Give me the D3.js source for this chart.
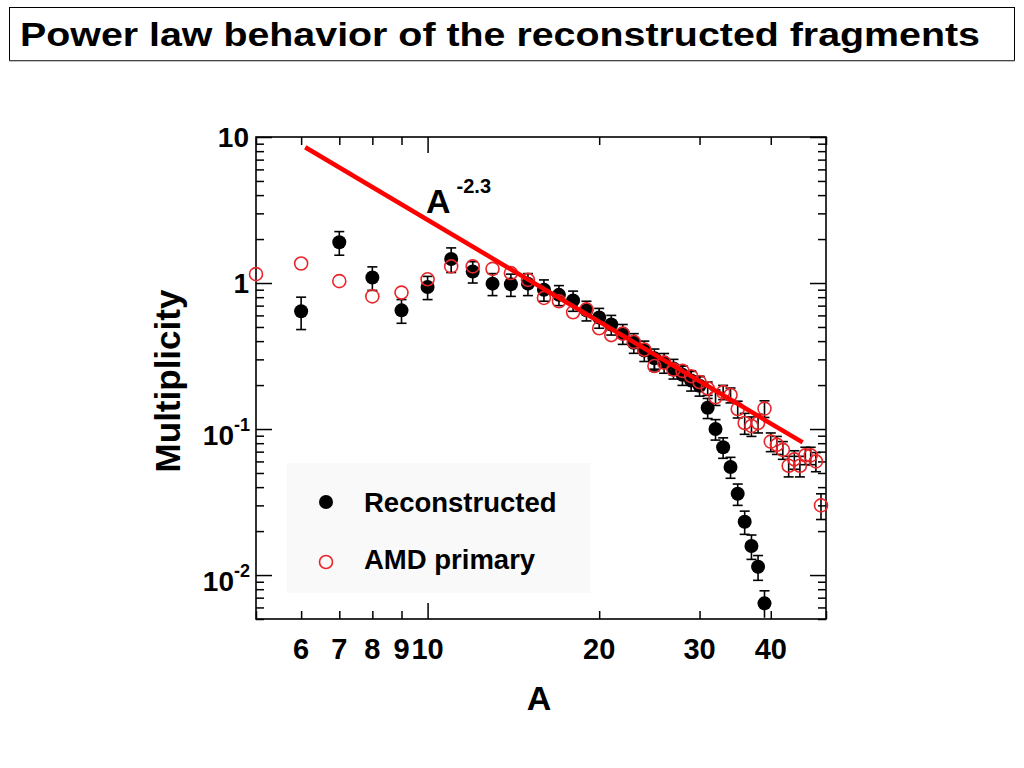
<!DOCTYPE html>
<html><head><meta charset="utf-8">
<script src="https://cdn.jsdelivr.net/npm/d3@7"></script>
<style>
html,body{margin:0;padding:0;background:#fff;}
svg{display:block;font-family:"Liberation Sans",Arial,Helvetica,sans-serif;font-weight:bold;}
</style>
</head><body>
<svg id="c" width="1024" height="768"></svg>
<script>
// ---------- data ----------
const title = "Power law behavior of the reconstructed fragments";
const xTitle = "A";
const yTitle = "Multiplicity";
const fitLabel = "A";
const fitExp = "-2.3";
const legendLabels = ["Reconstructed", "AMD primary"];

const recoA = [6,7,8,9,10,11,12,13,14,15,16,17,18,19,20,21,22,23,24,25,26,27,28,29,30,31,32,33,34,35,36,37,38,39];
const recoM = [0.64,1.90,1.09,0.65,0.94,1.46,1.20,0.99,0.98,0.99,0.90,0.83,0.76,0.65,0.58,0.52,0.45,0.39,0.345,0.305,0.285,0.26,0.235,0.215,0.198,0.14,0.10,0.075,0.055,0.036,0.0232,0.0158,0.0114,0.0064];
const recoErr = [0.16,0.35,0.20,0.12,0.17,0.28,0.20,0.17,0.17,0.17,0.15,0.13,0.12,0.10,0.09,0.08,0.07,0.06,0.055,0.048,0.044,0.04,0.036,0.033,0.03,0.022,0.016,0.012,0.009,0.006,0.0042,0.003,0.0022,0.0014];

const amdA = [5,6,7,8,9,10,11,12,13,14,15,16,17,18,19,20,21,22,23,24,25,26,27,28,29,30,31,32,33,34,35,36,37,38,39,40,41,42,43,44,45,46,47,48,49];
const amdM = [1.15,1.36,1.03,0.81,0.86,1.06,1.30,1.30,1.25,1.17,1.05,0.79,0.75,0.63,0.66,0.49,0.44,0.45,0.395,0.35,0.27,0.285,0.255,0.25,0.23,0.21,0.19,0.165,0.179,0.171,0.137,0.11,0.105,0.11,0.138,0.082,0.078,0.072,0.056,0.062,0.056,0.066,0.066,0.060,0.030];
const amdErr = [0,0,0,0,0,0,0,0,0,0,0,0,0,0,0,0,0,0,0,0,0.02,0.02,0.02,0.02,0.02,0.02,0.02,0.02,0.02,0.02,0.018,0.018,0.016,0.016,0.018,0.012,0.011,0.010,0.009,0.009,0.009,0.009,0.009,0.009,0.006];

const fitA = [6.1, 45.5];
const fitM = [8.5, 0.081];

const xTickLabelValues = [6,7,8,9,10,20,30,40];
const yTickValues = [10, 1, 0.1, 0.01];
const yTickBase = ["10", "1", "10", "10"];
const yTickExp = ["", "", "-1", "-2"];

// ---------- layout ----------
const svg = d3.select("#c");
const L = 256, R = 826, T = 137, B = 619;
const x = d3.scaleLog().domain([5, 50]).range([L, R]);
const y = d3.scaleLog().domain([0.005, 10]).range([B, T]);
const red = "#e8262a";

// title box
svg.append("rect").attr("x", 9.5).attr("y", 7.5).attr("width", 1005).attr("height", 53)
  .attr("fill", "#fff").attr("stroke", "#000").attr("stroke-width", 1);
svg.append("line").attr("x1", 9).attr("x2", 1015).attr("y1", 61).attr("y2", 61)
  .attr("stroke", "#888").attr("stroke-width", 1);
svg.append("text").attr("x", 20).attr("y", 46).attr("font-size", 33)
  .attr("textLength", 960).attr("lengthAdjust", "spacingAndGlyphs").text(title);

// legend background
svg.append("rect").attr("x", 287).attr("y", 463).attr("width", 303).attr("height", 130)
  .attr("fill", "#f9f9f9");

// axes with inward ticks
const isMajor = v => Math.abs(Math.log10(v) - Math.round(Math.log10(v))) < 1e-9;
const xt = x.ticks();
const yt = y.ticks();
function styleAxis(g, dir) {
  g.select(".domain").remove();
  g.selectAll(".tick text").remove();
  g.selectAll(".tick line").attr("stroke", "#000").attr("stroke-width", 1.5)
    .each(function(d){
      const len = isMajor(d) ? 16 : 8;
      const ln = d3.select(this);
      if (dir === "bottom") ln.attr("y2", -len);
      if (dir === "top") ln.attr("y2", len);
      if (dir === "left") ln.attr("x2", len);
      if (dir === "right") ln.attr("x2", -len);
    });
}
svg.append("g").attr("transform", `translate(0,${B})`)
  .call(d3.axisBottom(x).tickValues(xt).tickSizeOuter(0)).call(g => styleAxis(g, "bottom"));
svg.append("g").attr("transform", `translate(0,${T})`)
  .call(d3.axisTop(x).tickValues(xt).tickSizeOuter(0)).call(g => styleAxis(g, "top"));
svg.append("g").attr("transform", `translate(${L},0)`)
  .call(d3.axisLeft(y).tickValues(yt).tickSizeOuter(0)).call(g => styleAxis(g, "left"));
svg.append("g").attr("transform", `translate(${R},0)`)
  .call(d3.axisRight(y).tickValues(yt).tickSizeOuter(0)).call(g => styleAxis(g, "right"));

// frame
svg.append("rect").attr("x", L).attr("y", T).attr("width", R - L).attr("height", B - T)
  .attr("fill", "none").attr("stroke", "#000").attr("stroke-width", 1.6);

// x tick labels
svg.append("g").selectAll("text").data(xTickLabelValues).join("text")
  .attr("x", d => x(d)).attr("y", 659).attr("text-anchor", "middle").attr("font-size", 29)
  .text(d => String(d));

// y tick labels
yTickValues.forEach((v, i) => {
  const t = svg.append("text").attr("text-anchor", "end").attr("font-size", 28);
  if (yTickExp[i]) {
    t.attr("x", 250).attr("y", y(v) + 16);
    t.append("tspan").text(yTickBase[i]);
    t.append("tspan").attr("font-size", 18).attr("dy", -14).text(yTickExp[i]);
  } else {
    t.attr("x", 249).attr("y", y(v) + 10).text(yTickBase[i]);
  }
});

// axis titles
svg.append("text").attr("x", 539).attr("y", 710).attr("text-anchor", "middle")
  .attr("font-size", 34).text(xTitle);
svg.append("text").attr("transform", "translate(180,381) rotate(-90)").attr("text-anchor", "middle")
  .attr("font-size", 35).text(yTitle);

// reconstructed: error bars + filled dots
const recoData = recoA.map((a, i) => ({a, m: recoM[i], e: recoErr[i]}));
const amdData = amdA.map((a, i) => ({a, m: amdM[i], e: amdErr[i]}));
function errBars(data) {
  const g = svg.append("g").attr("stroke", "#000").attr("stroke-width", 1.6).attr("fill", "none");
  data.filter(d => d.e > 0).forEach(d => {
    const cx = x(d.a), y1 = y(d.m + d.e), y0 = y(Math.max(d.m - d.e, 0.0051));
    g.append("line").attr("x1", cx).attr("x2", cx).attr("y1", y1).attr("y2", y0);
    g.append("line").attr("x1", cx - 5).attr("x2", cx + 5).attr("y1", y1).attr("y2", y1);
    if (d.m - d.e > 0.005) g.append("line").attr("x1", cx - 5).attr("x2", cx + 5).attr("y1", y0).attr("y2", y0);
  });
}
errBars(recoData);
svg.append("g").selectAll("circle").data(recoData).join("circle")
  .attr("cx", d => x(d.a)).attr("cy", d => y(d.m)).attr("r", 7).attr("fill", "#000");

// AMD primary error bars + open circles
errBars(amdData);
svg.append("g").selectAll("circle").data(amdData).join("circle")
  .attr("cx", d => x(d.a)).attr("cy", d => y(d.m)).attr("r", 6.5)
  .attr("fill", "none").attr("stroke", red).attr("stroke-width", 1.6);

// power-law line
const fitData = fitA.map((a, i) => ({a, m: fitM[i]}));
svg.append("path").datum(fitData)
  .attr("d", d3.line().x(d => x(d.a)).y(d => y(d.m)))
  .attr("fill", "none").attr("stroke", "#ff0000").attr("stroke-width", 4.5);

// fit label
const fl = svg.append("text").attr("x", 426).attr("y", 213).attr("font-size", 34);
fl.append("tspan").text(fitLabel);
fl.append("tspan").attr("font-size", 20).attr("dx", 6).attr("dy", -20).text(fitExp);

// legend
svg.append("circle").attr("cx", 326).attr("cy", 502).attr("r", 7).attr("fill", "#000");
svg.append("circle").attr("cx", 326).attr("cy", 562).attr("r", 6.5).attr("fill", "none")
  .attr("stroke", red).attr("stroke-width", 1.6);
svg.append("text").attr("x", 364).attr("y", 512).attr("font-size", 27.5).text(legendLabels[0]);
svg.append("text").attr("x", 364).attr("y", 569).attr("font-size", 27.5).text(legendLabels[1]);
</script>
</body></html>
